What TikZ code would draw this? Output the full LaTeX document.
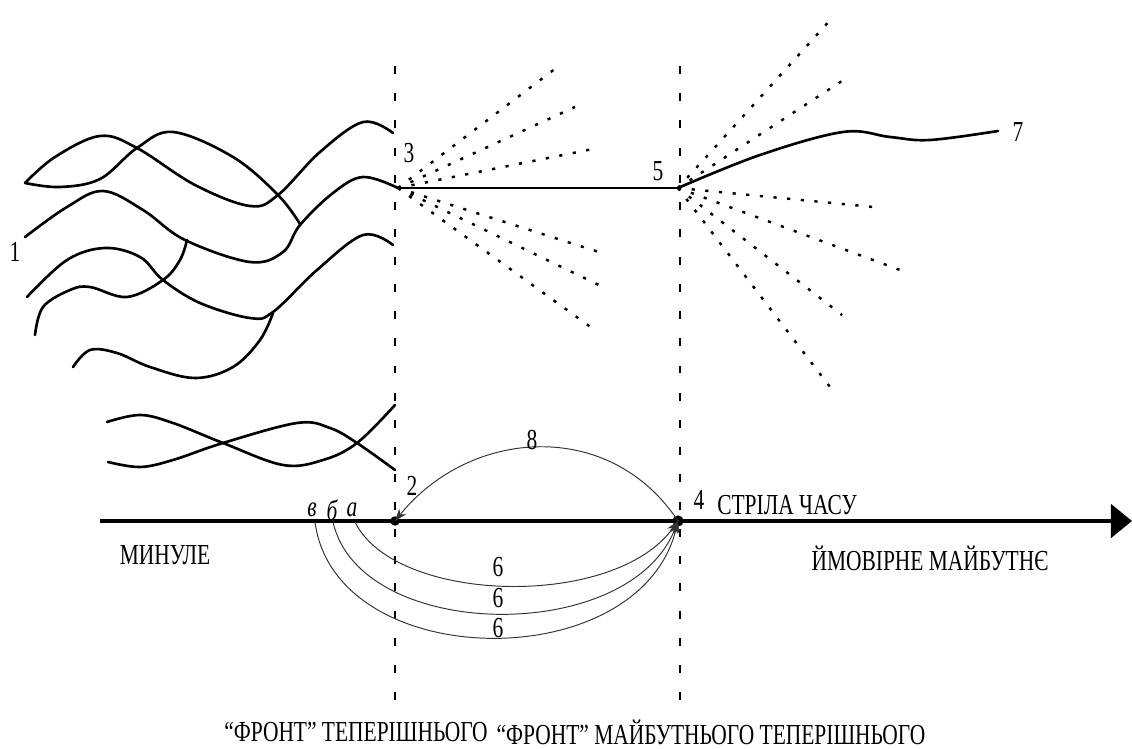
\documentclass[tikz,border=0pt]{standalone}
\usepackage{fontspec}
\setmainfont[FakeStretch=0.74]{Liberation Serif}
\usetikzlibrary{arrows.meta}
\tikzset{
	wave/.style={line width=1.5pt, line cap=round},
	front/.style={line width=1.5pt, dash pattern=on 4.5pt off 11pt},
	fan/.style={line width=1.4pt, dash pattern=on 1.8pt off 6pt},
	link/.style={line width=0.55pt, black!80, -{Stealth[length=7pt,width=5pt]}},
	lbl/.style={font=\fontsize{16.5}{18}\selectfont, inner sep=0pt}
}

\begin{document}
\begin{tikzpicture}[x=0.02cm, y=-0.02cm]
		%%%%% START %%%%%
		\useasboundingbox (0,0) rectangle (1132,749);
		
		\coordinate (p2) at (395,521);
		\coordinate (p3) at (398,188);
		\coordinate (p4) at (678,521);
		\coordinate (p5) at (678,188);
		
		% fronts
		\draw[front] (395,66) -- (395,716);
		\draw[front] (680,66) -- (680,716);
		
		% past
		\draw[wave] plot[smooth, tension=0.6] coordinates {(25,183) (55,157) (100,136) (137,148) (195,185) (250,206) (278,195) (320,152) (363,122) (393,133)};
		\draw[wave] plot[smooth, tension=0.6] coordinates {(25,183) (60,187) (100,179) (137,148) (173,132) (233,157) (278,195) (300,224)};
		\draw[wave] plot[smooth, tension=0.6] coordinates {(25,237) (67,207) (103,191) (143,210) (185,240) (250,262) (283,252) (300,225) (333,193) (363,177) (p3)};
		\draw[wave] plot[smooth, tension=0.6] coordinates {(27,297) (67,260) (105,248) (140,257) (163,280) (200,303) (250,318) (273,312) (317,270) (363,235) (393,245)};
		\draw[wave] plot[smooth, tension=0.6] coordinates {(35,335) (43,307) (70,290) (90,287) (127,297) (163,280) (180,260) (187,240)};
		\draw[wave] plot[smooth, tension=0.6] coordinates {(73,367) (90,350) (117,353) (150,367) (195,378) (233,367) (260,340) (273,313)};
		
		\draw[wave] plot[smooth, tension=0.6] coordinates {(107,422) (140,415) (173,423) (223,443) (283,465) (323,460) (357,443) (395,405)};
		\draw[wave] plot[smooth, tension=0.6] coordinates {(108,462) (140,467) (173,460) (223,443) (297,423) (330,428) (357,443) (395,470)};
		
		% present -> future
		\draw[line width=1.4pt] (p3) -- (p5);
		\draw[wave] plot[smooth, tension=0.6] coordinates {(p5) (760,155) (843,132) (890,137) (930,140) (998,131)};
		
		\foreach \x/\y [count=\i] in {560/65, 575/107, 598/148, 602/253, 605/288, 592/328}
			\draw[fan] (p3) -- (\x,\y) coordinate (a\i);
		\foreach \x/\y [count=\i] in {833/17, 848/77, 873/207, 900/270, 842/315, 830/387}
			\draw[fan] (p5) -- (\x,\y) coordinate (b\i);
		
		% time arrow
		\draw[line width=2.2pt, -{Triangle[length=12pt,width=19pt]}] (100,521) -- (1132,521);
		\fill (p2) circle (2.7pt);
		\fill (p4) circle (3.2pt);
		
		\coordinate (ca) at (355,522);
		\coordinate (cb) at (333,522);
		\coordinate (cc) at (315,522);
		\draw[link] (p4) .. controls (610,418) and (470,428) .. (p2);
		\draw[link] (ca) .. controls (395,604) and (615,610) .. (p4);
		\draw[link] (cb) .. controls (360,642) and (630,646) .. (p4);
		\draw[link] (cc) .. controls (335,674) and (640,678) .. (p4);
		
		% labels
		\node[lbl] (n1) at (15,252) {1};
		\node[lbl] (n3) at (409,153) {3};
		\node[lbl] (n5) at (658,171) {5};
		\node[lbl] (n7) at (1018,132) {7};
		\node[lbl] (n2) at (412,486) {2};
		\node[lbl] (n4) at (699,500) {4};
		\node[lbl] (n8) at (532,440) {8};
		\foreach \y [count=\i] in {567, 598, 628}
			\node[lbl] (n6\i) at (498,\y) {6};
		\node[lbl, font=\fontsize{16.5}{18}\selectfont\itshape] (lc) at (312,510) {в};
		\node[lbl, font=\fontsize{16.5}{18}\selectfont\itshape] (lb) at (332,510) {б};
		\node[lbl, font=\fontsize{16.5}{18}\selectfont\itshape] (la) at (352,510) {а};
		
		\node[lbl] (past) at (165,555) {МИНУЛЕ};
		\node[lbl] (arrowtxt) at (787,505) {СТРІЛА ЧАСУ};
		\node[lbl] (future) at (930,558) {ЙМОВІРНЕ МАЙБУТНЄ};
		\node[lbl] (front1) at (356,732) {“ФРОНТ” ТЕПЕРІШНЬОГО};
		\node[lbl] (front2) at (711,732) {“ФРОНТ” МАЙБУТНЬОГО ТЕПЕРІШНЬОГО};
		%%%%% END %%%%%
\end{tikzpicture}
\end{document}
